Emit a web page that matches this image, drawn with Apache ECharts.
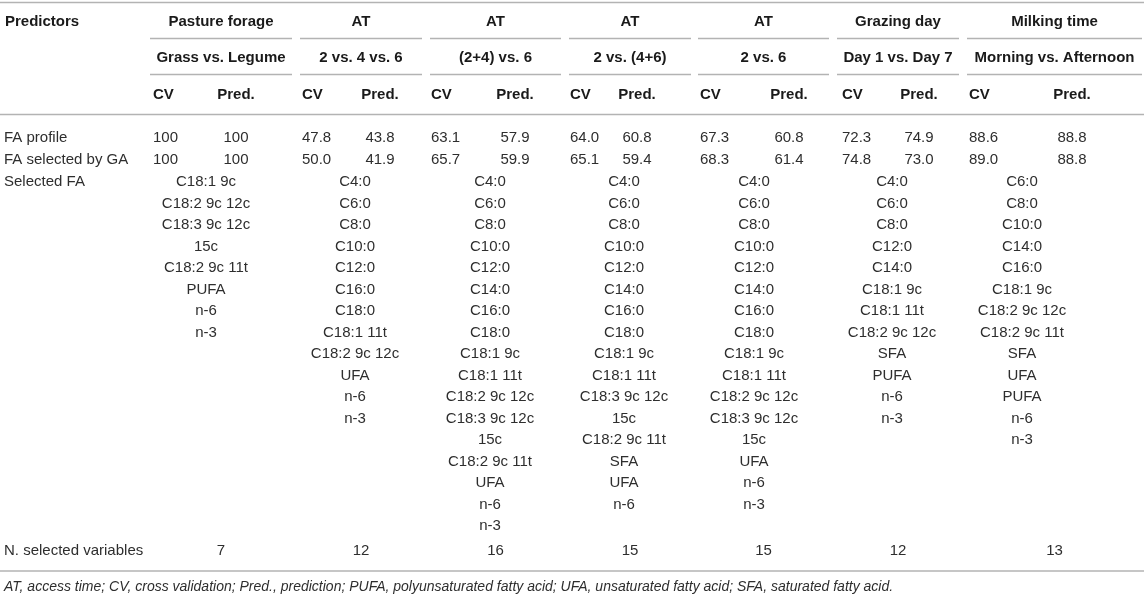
<!DOCTYPE html>
<html><head><meta charset="utf-8">
<script src="https://cdn.jsdelivr.net/npm/echarts@6/dist/echarts.min.js"></script>
<style>html,body{margin:0;padding:0;background:#fff}#c{width:1144px;height:600px}</style>
</head><body><div id="c"></div>
<script>
// ---------- DATA ----------
const stubHeader = 'Predictors';
const groupHeaders = ['Pasture forage', 'AT', 'AT', 'AT', 'AT', 'Grazing day', 'Milking time'];
const comparisons = ['Grass vs. Legume', '2 vs. 4 vs. 6', '(2+4) vs. 6', '2 vs. (4+6)', '2 vs. 6', 'Day 1 vs. Day 7', 'Morning vs. Afternoon'];
const subHeaders = ['CV', 'Pred.'];
const rowLabels = ['FA profile', 'FA selected by GA', 'Selected FA', 'N. selected variables'];
const cvProfile = [100, 47.8, 63.1, 64.0, 67.3, 72.3, 88.6];
const predProfile = [100, 43.8, 57.9, 60.8, 60.8, 74.9, 88.8];
const cvGA = [100, 50.0, 65.7, 65.1, 68.3, 74.8, 89.0];
const predGA = [100, 41.9, 59.9, 59.4, 61.4, 73.0, 88.8];
const selPasture = ['C18:1 9c', 'C18:2 9c 12c', 'C18:3 9c 12c\n15c', 'C18:2 9c 11t', 'PUFA', 'n-6', 'n-3'];
const selAT246 = ['C4:0', 'C6:0', 'C8:0', 'C10:0', 'C12:0', 'C16:0', 'C18:0', 'C18:1 11t', 'C18:2 9c 12c', 'UFA', 'n-6', 'n-3'];
const selAT24v6 = ['C4:0', 'C6:0', 'C8:0', 'C10:0', 'C12:0', 'C14:0', 'C16:0', 'C18:0', 'C18:1 9c', 'C18:1 11t', 'C18:2 9c 12c', 'C18:3 9c 12c\n15c', 'C18:2 9c 11t', 'UFA', 'n-6', 'n-3'];
const selAT2v46 = ['C4:0', 'C6:0', 'C8:0', 'C10:0', 'C12:0', 'C14:0', 'C16:0', 'C18:0', 'C18:1 9c', 'C18:1 11t', 'C18:3 9c 12c\n15c', 'C18:2 9c 11t', 'SFA', 'UFA', 'n-6'];
const selAT2v6 = ['C4:0', 'C6:0', 'C8:0', 'C10:0', 'C12:0', 'C14:0', 'C16:0', 'C18:0', 'C18:1 9c', 'C18:1 11t', 'C18:2 9c 12c', 'C18:3 9c 12c\n15c', 'UFA', 'n-6', 'n-3'];
const selGrazing = ['C4:0', 'C6:0', 'C8:0', 'C12:0', 'C14:0', 'C18:1 9c', 'C18:1 11t', 'C18:2 9c 12c', 'SFA', 'PUFA', 'n-6', 'n-3'];
const selMilking = ['C6:0', 'C8:0', 'C10:0', 'C14:0', 'C16:0', 'C18:1 9c', 'C18:2 9c 12c', 'C18:2 9c 11t', 'SFA', 'UFA', 'PUFA', 'n-6', 'n-3'];
const nSelected = [7, 12, 16, 15, 15, 12, 13];
const footnote = 'AT, access time; CV, cross validation; Pred., prediction; PUFA, polyunsaturated fatty acid; UFA, unsaturated fatty acid; SFA, saturated fatty acid.';

// ---------- LAYOUT ----------
const W = 1144, H = 600;
const groupSpans = [[150, 292], [300, 422], [430, 561], [569, 691], [698, 829], [837, 959], [967, 1142]];
const cvX = [153, 302, 431, 570, 700, 842, 969];
const predX = [236, 380, 515, 637, 789, 919, 1072];
const listX = [206, 355, 490, 624, 754, 892, 1022];
const labelX = 4;
const Y = { top: 2.5, r1: 38.5, r2: 74.5, r3: 114.5, bottom: 571,
  h1: 22, h2: 58, h3: 94.5, prof: 138, ga: 160, list: 182, step: 21.5, nsel: 551, foot: 587 };
const FF = "'Liberation Sans', Arial, Helvetica, sans-serif";
const F_BOLD = 'bold 15px ' + FF, F_REG = '15px ' + FF, F_IT = 'italic 14px ' + FF;
const C_BOLD = '#1a1a1a', C_REG = '#2e2e2e', RULE = '#b3b3b3';

const fmt = v => (v === 100 ? '100' : v.toFixed(1));
const center = i => (groupSpans[i][0] + groupSpans[i][1]) / 2;
const selLists = [selPasture, selAT246, selAT24v6, selAT2v46, selAT2v6, selGrazing, selMilking];

const texts = [];
const T = (x, y, text, font, color, align) => texts.push({ x, y, text: String(text), font, color, align });

T(labelX + 1, Y.h1, stubHeader, F_BOLD, C_BOLD, 'left');
groupHeaders.forEach((g, i) => {
  T(center(i), Y.h1, g, F_BOLD, C_BOLD, 'center');
  T(center(i), Y.h2, comparisons[i], F_BOLD, C_BOLD, 'center');
  T(cvX[i], Y.h3, subHeaders[0], F_BOLD, C_BOLD, 'left');
  T(predX[i], Y.h3, subHeaders[1], F_BOLD, C_BOLD, 'center');
  T(cvX[i], Y.prof, fmt(cvProfile[i]), F_REG, C_REG, 'left');
  T(predX[i], Y.prof, fmt(predProfile[i]), F_REG, C_REG, 'center');
  T(cvX[i], Y.ga, fmt(cvGA[i]), F_REG, C_REG, 'left');
  T(predX[i], Y.ga, fmt(predGA[i]), F_REG, C_REG, 'center');
  let line = 0;
  selLists[i].forEach(item => item.split('\n').forEach(part => {
    T(listX[i], Y.list + line * Y.step, part, F_REG, C_REG, 'center');
    line++;
  }));
  T(center(i), Y.nsel, nSelected[i], F_REG, C_REG, 'center');
});
T(labelX, Y.prof, rowLabels[0], F_REG, C_REG, 'left');
T(labelX, Y.ga, rowLabels[1], F_REG, C_REG, 'left');
T(labelX, Y.list, rowLabels[2], F_REG, C_REG, 'left');
T(labelX, Y.nsel, rowLabels[3], F_REG, C_REG, 'left');
T(labelX, Y.foot, footnote, F_IT, C_REG, 'left');

const rules = [[0, Y.top, W], [0, Y.r3, W], [0, Y.bottom, W]];
groupSpans.forEach(s => { rules.push([s[0], Y.r1, s[1]]); rules.push([s[0], Y.r2, s[1]]); });

const chart = echarts.init(document.getElementById('c'));
chart.setOption({
  animation: false,
  backgroundColor: '#fff',
  grid: { left: 0, right: 0, top: 0, bottom: 0, containLabel: false },
  xAxis: { type: 'value', min: 0, max: W, show: false },
  yAxis: { type: 'value', min: 0, max: H, inverse: true, show: false },
  series: [
    {
      type: 'custom', clip: false, silent: true,
      data: rules,
      renderItem: (params, api) => {
        const a = api.coord([api.value(0), api.value(1)]);
        const b = api.coord([api.value(2), api.value(1)]);
        return { type: 'line', shape: { x1: a[0], y1: a[1], x2: b[0], y2: b[1] },
          style: { stroke: RULE, lineWidth: 1.6 } };
      }
    },
    {
      type: 'custom', clip: false, silent: true,
      data: texts.map(t => [t.x, t.y]),
      renderItem: (params, api) => {
        const t = texts[params.dataIndex];
        const p = api.coord([api.value(0), api.value(1)]);
        return { type: 'text', x: p[0], y: p[1],
          style: { text: t.text, font: t.font, fill: t.color, align: t.align, verticalAlign: 'middle' } };
      }
    }
  ]
});
</script>
</body></html>
